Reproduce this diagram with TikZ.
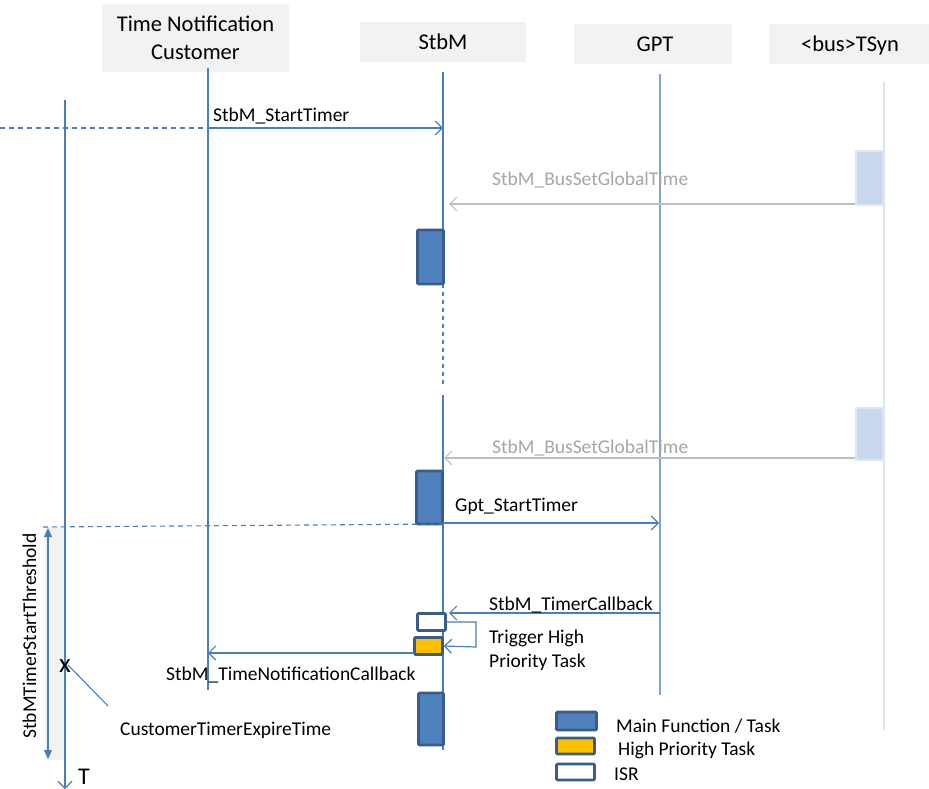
\documentclass[tikz,border=0pt]{standalone}
\usepackage{fontspec}
\setmainfont{Carlito}
\usetikzlibrary{arrows.meta}
\definecolor{ln}{HTML}{4A7EBB}
\definecolor{gptln}{HTML}{7EA3D6}
\definecolor{tsln}{HTML}{DCE5F2}
\definecolor{hdrfill}{HTML}{F2F2F2}
\definecolor{mainfill}{HTML}{4F81BD}
\definecolor{mainbd}{HTML}{385D8A}
\definecolor{hpfill}{HTML}{FFC000}
\definecolor{graytxt}{HTML}{A6A6A6}
\definecolor{grayln}{HTML}{BFBFBF}
\definecolor{tsbox}{HTML}{C6D7EE}
\definecolor{tsboxbd}{HTML}{DCE6F4}
\tikzset{
  hdr/.style={fill=hdrfill, draw=none, inner sep=0pt, align=center,
    font=\fontsize{22.5}{28}\selectfont},
  lbl/.style={inner sep=0pt, anchor=base west, font=\fontsize{19.5}{24}\selectfont},
  life/.style={draw=ln, line width=1.1pt},
  msg/.style={draw=ln, line width=1.2pt, -{Straight Barb[length=7pt,width=14pt,line width=1.2pt]}},
  gmsg/.style={draw=grayln, line width=1.2pt, -{Straight Barb[length=7pt,width=14pt,line width=1.2pt]}},
  mainbox/.style={fill=mainfill, draw=mainbd, line width=2.6pt, inner sep=0pt, rounded corners=1pt},
  hpbox/.style={fill=hpfill, draw=mainbd, line width=2.6pt, inner sep=0pt, rounded corners=1pt},
  isrbox/.style={fill=white, draw=mainbd, line width=2.6pt, inner sep=0pt, rounded corners=1pt},
  tsbx/.style={fill=tsbox, draw=tsboxbd, line width=2pt, inner sep=0pt},
}
\begin{document}
\begin{tikzpicture}[x=1pt,y=-1pt]
\useasboundingbox (0,0) rectangle (929,789);

% headers
\node[hdr, minimum width=187pt, minimum height=68pt] (hC) at (195.5,38) {};
\node[lbl, font=\fontsize{22.5}{28}\selectfont, anchor=base] (hC1) at (195.5,32) {Time Notification};
\node[lbl, font=\fontsize{22.5}{28}\selectfont, anchor=base] (hC2) at (195.5,60) {Customer};
\node[hdr, minimum width=166pt, minimum height=40pt] (hS) at (443,42) {};
\node[lbl, font=\fontsize{22.5}{28}\selectfont, anchor=base] (hS1) at (443,50) {StbM};
\node[hdr, minimum width=158pt, minimum height=40pt] (hG) at (653,44) {};
\node[lbl, font=\fontsize{22.5}{28}\selectfont, anchor=base] (hG1) at (655,52) {GPT};
\node[hdr, minimum width=170pt, minimum height=40pt] (hT) at (854,44) {};
\node[lbl, font=\fontsize{22.5}{28}\selectfont, anchor=base] (hT1) at (850,52) {<bus>TSyn};

% lifeline coordinates
\coordinate (cTop) at (208,68);
\coordinate (cBot) at (208,690);
\coordinate (sTop) at (443,72);
\coordinate (sA) at (443,284);
\coordinate (sB) at (443,387);
\coordinate (sC) at (443,395);
\coordinate (sBot) at (443,750);
\coordinate (gTop) at (660,74);
\coordinate (gBot) at (660,695);
\coordinate (tTop) at (884,82);
\coordinate (tBot) at (884,730);
\coordinate (axTop) at (65,100);
\coordinate (axBot) at (65,789);

% gray threshold band
\fill[hdrfill] (45,527) rectangle (65,760);

\draw[draw=tsln, line width=1.1pt] (tTop) -- (tBot);
\draw[draw=gptln, line width=1.4pt] (gTop) -- (gBot);
\draw[life] (cTop) -- (cBot);
\draw[life] (sTop) -- (sA);
\draw[life, dashed, dash pattern=on 4pt off 4pt] (sA) -- (sB);
\draw[life] (sC) -- (sBot);
\draw[life, -{Straight Barb[length=7pt,width=14pt,line width=1.1pt]}] (axTop) -- (axBot);
\node[lbl, font=\fontsize{24}{28}\selectfont] (T) at (78,784.5) {T};

% StbM_StartTimer
\coordinate (m1a) at (0,128);
\coordinate (m1b) at (208,128);
\coordinate (m1c) at (443,128);
\draw[draw=ln, line width=1.1pt, dash pattern=on 5pt off 4pt] (m1a) -- (m1b);
\draw[msg] (m1b) -- (m1c);
\node[lbl] (l1) at (213,122) {StbM\_StartTimer};

% TSyn boxes and BusSetGlobalTime
\node[tsbx, minimum width=27pt, minimum height=53pt] (ts1) at (869,178) {};
\node[tsbx, minimum width=27pt, minimum height=52pt] (ts2) at (869,434) {};
\coordinate (b1a) at (855,204);
\coordinate (b1b) at (449,204);
\draw[gmsg] (b1a) -- (b1b);
\node[lbl, text=graytxt] (l2) at (492,185) {StbM\_BusSetGlobalTime};
\coordinate (b2a) at (855,458);
\coordinate (b2b) at (444,458);
\draw[gmsg] (b2a) -- (b2b);
\node[lbl, text=graytxt] (l3) at (492,453) {StbM\_BusSetGlobalTime};

% main function boxes
\node[mainbox, minimum width=26pt, minimum height=54pt] (mb1) at (430.5,257) {};
\node[mainbox, minimum width=26pt, minimum height=53pt] (mb2) at (429.5,497.5) {};
\node[mainbox, minimum width=25pt, minimum height=52pt] (mb3) at (431,719) {};

% threshold dashed line and double arrow
\coordinate (dL) at (43,527);
\coordinate (dR) at (443,524);
\draw[draw=ln, line width=1.1pt, dash pattern=on 5pt off 4pt] (dL) -- (dR);
\coordinate (thA) at (48,528);
\coordinate (thB) at (48,759);
\draw[draw=ln, line width=1.3pt, {Triangle[length=9pt,width=8pt]}-{Triangle[length=9pt,width=8pt]}] (thA) -- (thB);
\node[lbl, anchor=base, rotate=90] (lth) at (36,636) {StbMTimerStartThreshold};

% Gpt_StartTimer
\coordinate (g1a) at (443,523);
\coordinate (g1b) at (659,523);
\draw[msg] (g1a) -- (g1b);
\node[lbl] (l4) at (455,511) {Gpt\_StartTimer};

% StbM_TimerCallback
\coordinate (tc1) at (660,613);
\coordinate (tc2) at (449,613);
\draw[msg] (tc1) -- (tc2);
\node[lbl] (l5) at (489,610) {StbM\_TimerCallback};

% ISR and high priority boxes
\node[isrbox, minimum width=28pt, minimum height=17pt] (isr) at (431.5,622) {};
\node[hpbox, minimum width=28pt, minimum height=17pt] (hp) at (428.5,646) {};
\coordinate (lpA) at (476,622);
\coordinate (lpB) at (476,647);
\draw[msg] (isr.east) -- (lpA) -- (lpB) -- (hp.east);
\node[lbl] (l6) at (489,643) {Trigger High};
\node[lbl] (l7) at (489,667) {Priority Task};

% StbM_TimeNotificationCallback
\coordinate (nc1) at (414,653);
\coordinate (nc2) at (208,653);
\draw[msg] (nc1) -- (nc2);
\node[lbl] (l8) at (166,680) {StbM\_TimeNotificationCallback};

% customer timer expire
\node[lbl, anchor=base, font=\fontsize{27}{28}\selectfont] (xm) at (65,672) {x};
\coordinate (xl1) at (68,665);
\coordinate (xl2) at (108,706);
\draw[draw=ln, line width=1.1pt] (xl1) -- (xl2);
\node[lbl] (l9) at (120,735) {CustomerTimerExpireTime};

% legend
\node[mainbox, minimum width=40pt, minimum height=18pt] (lg1) at (576.5,721) {};
\node[hpbox, minimum width=38pt, minimum height=16pt] (lg2) at (575.5,746) {};
\node[isrbox, minimum width=38pt, minimum height=16pt] (lg3) at (575.5,772) {};
\node[lbl] (lt1) at (616,732) {Main Function / Task};
\node[lbl] (lt2) at (618,755) {High Priority Task};
\node[lbl] (lt3) at (614,780) {ISR};
\end{tikzpicture}
\end{document}
